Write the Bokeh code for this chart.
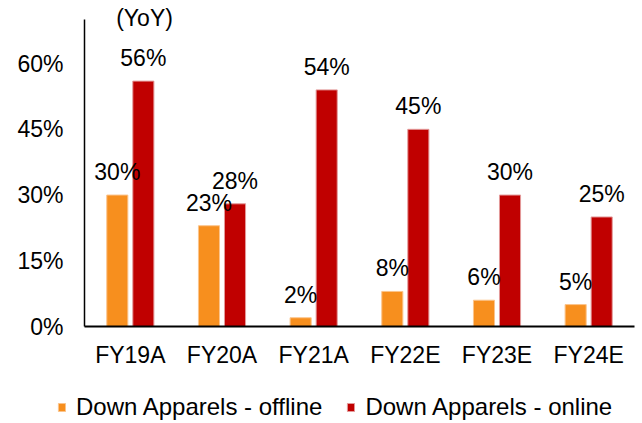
from bokeh.plotting import figure
from bokeh.models import (ColumnDataSource, FactorRange, FixedTicker, Legend,
                          LegendItem, Label, Range1d)
from bokeh.transform import dodge
from bokeh.core.properties import value
from bokeh.embed import file_html
from bokeh.resources import INLINE

categories = ["FY19A", "FY20A", "FY21A", "FY22E", "FY23E", "FY24E"]
offline = [30, 23, 2, 8, 6, 5]
online = [56, 28, 54, 45, 30, 25]
yticks = [0, 15, 30, 45, 60]
series_names = ["Down Apparels - offline", "Down Apparels - online"]
unit_label = "(YoY)"

FONT = "Liberation Sans"
FS = "23px"
ORANGE = "#F78F1E"
RED = "#C00000"
OFF_LINE = "#FBC48C"
ON_LINE = "#E39A9A"

src = ColumnDataSource(dict(
    cat=categories,
    off=offline,
    on=online,
    off_lbl=[f"{v}%" for v in offline],
    on_lbl=[f"{v}%" for v in online],
))

p = figure(x_range=FactorRange(factors=categories, range_padding=0),
           y_range=Range1d(0, 74.4),
           width=640, height=376, output_backend="svg", toolbar_location=None,
           min_border_left=84, min_border_right=6, min_border_top=0,
           min_border_bottom=50)
p.outline_line_color = None
p.xgrid.visible = False
p.ygrid.visible = False

p.vbar(x=dodge("cat", -0.142, range=p.x_range), top="off", width=0.23,
       source=src, fill_color=ORANGE, line_color=OFF_LINE, line_width=1)
p.vbar(x=dodge("cat", 0.142, range=p.x_range), top="on", width=0.23,
       source=src, fill_color=RED, line_color=ON_LINE, line_width=1)

for col, dx in (("off_lbl", -0.142), ("on_lbl", 0.142)):
    ycol = "off" if col == "off_lbl" else "on"
    p.text(x=dodge("cat", dx, range=p.x_range), y=ycol, text=col, source=src,
           text_font=value(FONT), text_font_size=FS, text_color="black",
           text_align="center", text_baseline="alphabetic", y_offset=-23)

# axes
p.yaxis.ticker = FixedTicker(ticks=yticks)
p.yaxis.major_label_overrides = {v: f"{v}%" for v in yticks}
p.yaxis.bounds = (0, 70)
for ax in (p.xaxis, p.yaxis):
    ax.major_tick_line_color = None
    ax.minor_tick_line_color = None
    ax.major_tick_out = 0
    ax.major_tick_in = 0
    ax.axis_line_color = "black"
    ax.major_label_text_font = FONT
    ax.major_label_text_font_size = FS
    ax.major_label_text_color = "black"
p.yaxis.axis_line_width = 1.5
p.xaxis.axis_line_width = 2
p.yaxis.major_label_standoff = 21
p.xaxis.major_label_standoff = 15

p.add_layout(Label(x=0.655, y=70.5, text=unit_label, text_font=FONT,
                   text_font_size=FS, text_color="black",
                   text_align="center", text_baseline="middle"))

# legend strip (separate root so that its frame spans the full width)
lg = figure(width=640, height=47, output_backend="svg", toolbar_location=None,
            x_range=Range1d(-2, -1), y_range=Range1d(-2, -1),
            x_axis_type=None, y_axis_type=None,
            min_border_left=0, min_border_right=0, min_border_top=0,
            min_border_bottom=0)
lg.outline_line_color = None
lg.xgrid.visible = False
lg.ygrid.visible = False
# legend-only renderers: their data lies outside the strip's ranges
r_off = lg.vbar(x="off", top="off", width=0.1, source=src,
                fill_color=ORANGE, line_color=OFF_LINE)
r_on = lg.vbar(x="on", top="on", width=0.1, source=src,
               fill_color=RED, line_color=ON_LINE)
legend = Legend(items=[LegendItem(label=series_names[0], renderers=[r_off]),
                       LegendItem(label=series_names[1], renderers=[r_on])],
                orientation="horizontal", location=(57, 2),
                glyph_width=9, glyph_height=10, label_standoff=10, spacing=24,
                padding=0, margin=0, border_line_color=None,
                background_fill_alpha=0, label_text_font=FONT,
                label_text_font_size="24px", label_text_color="black")
lg.add_layout(legend)

open("out.html", "w").write(file_html([p, lg], INLINE))
